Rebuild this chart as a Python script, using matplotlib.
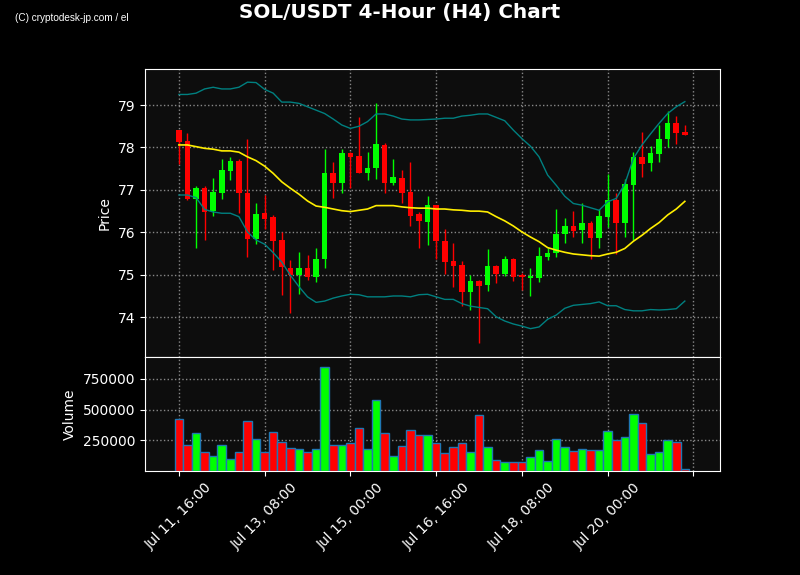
import numpy as np
import matplotlib
matplotlib.use('Agg')
import matplotlib.pyplot as plt

# 4時間足 (Jul 11 16:00 から 60本)
opens = [78.41, 78.15, 76.78, 77.05, 76.50, 76.93, 77.45, 77.68, 76.92, 75.84,
         76.45, 76.35, 75.82, 75.17, 74.99, 75.15, 74.95, 75.37, 77.39, 77.17,
         77.86, 77.80, 77.40, 77.52, 78.06, 77.17, 77.28, 76.95, 76.43, 76.24,
         76.64, 75.79, 75.32, 75.23, 74.60, 74.85, 74.75, 75.20, 75.02, 75.37,
         74.99, 74.93, 74.93, 75.43, 75.52, 75.95, 76.15, 76.06, 76.22, 75.87,
         76.37, 76.76, 76.21, 77.11, 77.77, 77.64, 77.85, 78.19, 78.57, 78.36]
closes = [78.13, 76.78, 77.05, 76.48, 76.95, 77.47, 77.68, 76.92, 75.85, 76.43,
          76.32, 75.80, 75.19, 74.99, 75.15, 74.95, 75.38, 77.39, 77.17, 77.86,
          77.78, 77.40, 77.51, 78.08, 77.17, 77.30, 76.93, 76.39, 76.26, 76.64,
          75.79, 75.30, 75.21, 74.60, 74.85, 74.74, 75.20, 75.02, 75.37, 74.95,
          74.95, 74.97, 75.44, 75.52, 75.96, 76.15, 76.04, 76.22, 75.87, 76.38,
          76.76, 76.21, 77.13, 77.77, 77.62, 77.86, 78.19, 78.57, 78.35, 78.30]
highs = [78.42, 78.33, 77.09, 77.09, 77.27, 77.72, 77.78, 77.72, 78.19, 76.68,
         76.89, 76.41, 76.01, 75.34, 75.54, 75.46, 75.62, 77.96, 77.65, 77.96,
         77.90, 78.71, 77.90, 79.04, 78.11, 77.74, 77.48, 77.65, 76.48, 76.85,
         76.64, 76.07, 75.74, 75.33, 74.99, 74.87, 75.60, 75.23, 75.44, 75.39,
         75.03, 75.17, 75.66, 75.62, 76.56, 76.33, 76.51, 76.70, 76.27, 76.56,
         77.37, 76.93, 77.25, 77.90, 78.37, 78.03, 78.53, 78.87, 78.75, 78.54]
lows = [77.62, 76.77, 75.64, 75.83, 76.38, 76.78, 77.23, 76.45, 75.42, 75.72,
        76.09, 75.11, 74.52, 74.09, 74.54, 74.87, 74.83, 75.17, 76.80, 76.92,
        77.04, 77.39, 77.23, 77.25, 76.93, 77.11, 76.70, 76.15, 75.62, 75.69,
        75.36, 75.01, 74.72, 74.27, 74.18, 73.38, 74.61, 74.81, 74.97, 74.86,
        74.65, 74.50, 74.82, 75.34, 75.42, 75.74, 75.88, 75.75, 75.36, 75.62,
        76.12, 75.49, 75.89, 75.82, 77.31, 77.44, 77.66, 78.02, 78.08, 78.30]
volumes = [421000, 209000, 307000, 152000, 120000, 209000, 100000, 152000, 405000, 258000,
           152000, 315000, 234000, 185000, 177000, 152000, 177000, 844000, 209000, 209000,
           225000, 348000, 177000, 576000, 307000, 120000, 201000, 331000, 291000, 291000,
           225000, 144000, 193000, 225000, 152000, 454000, 193000, 87000, 71000, 71000,
           71000, 111000, 168000, 79000, 258000, 193000, 160000, 177000, 168000, 168000,
           323000, 250000, 274000, 462000, 388000, 136000, 152000, 250000, 234000, 14000]

# ボリンジャーバンド (20SMA ±2σ)
bb_mid = [78.06, 78.06, 78.02, 77.98, 77.96, 77.92, 77.92, 77.89, 77.78, 77.69,
          77.56, 77.39, 77.19, 77.04, 76.90, 76.74, 76.62, 76.59, 76.55, 76.51,
          76.49, 76.52, 76.55, 76.63, 76.63, 76.63, 76.60, 76.58, 76.57, 76.57,
          76.55, 76.55, 76.53, 76.52, 76.50, 76.50, 76.48, 76.37, 76.27, 76.15,
          76.01, 75.89, 75.78, 75.64, 75.58, 75.53, 75.49, 75.47, 75.45, 75.44,
          75.49, 75.53, 75.62, 75.79, 75.93, 76.09, 76.23, 76.41, 76.55, 76.73]
bb_upper = [79.25, 79.25, 79.28, 79.38, 79.42, 79.38, 79.38, 79.42, 79.54, 79.53,
            79.37, 79.28, 79.07, 79.07, 79.04, 78.96, 78.88, 78.80, 78.67, 78.53,
            78.45, 78.50, 78.61, 78.79, 78.79, 78.74, 78.67, 78.65, 78.65, 78.66,
            78.67, 78.69, 78.69, 78.74, 78.76, 78.79, 78.79, 78.71, 78.63, 78.41,
            78.21, 78.03, 77.78, 77.35, 77.11, 76.85, 76.68, 76.64, 76.58, 76.52,
            76.72, 76.80, 77.14, 77.74, 78.06, 78.32, 78.57, 78.80, 78.96, 79.08]
bb_lower = [76.88, 76.88, 76.82, 76.54, 76.48, 76.45, 76.45, 76.37, 76.01, 75.82,
            75.72, 75.52, 75.30, 74.99, 74.72, 74.48, 74.35, 74.38, 74.45, 74.50,
            74.54, 74.53, 74.48, 74.48, 74.48, 74.50, 74.50, 74.48, 74.53, 74.54,
            74.48, 74.42, 74.42, 74.32, 74.26, 74.23, 74.20, 74.01, 73.91, 73.84,
            73.79, 73.73, 73.77, 73.95, 74.05, 74.21, 74.28, 74.30, 74.32, 74.36,
            74.27, 74.27, 74.18, 74.15, 74.15, 74.18, 74.17, 74.18, 74.20, 74.38]

tick_labels = ['Jul 11, 16:00', 'Jul 13, 08:00', 'Jul 15, 00:00', 'Jul 16, 16:00',
               'Jul 18, 08:00', 'Jul 20, 00:00', '']

UP = '#00ff00'
DOWN = '#ff0000'

x = np.arange(len(opens))
colors = [UP if c >= o else DOWN for o, c in zip(opens, closes)]

fig = plt.figure(figsize=(8, 5.75), dpi=100, facecolor='black')
ax = fig.add_axes([0.18125, 0.379, 0.71875, 0.501])
axv = fig.add_axes([0.18125, 0.181, 0.71875, 0.198], sharex=ax)

for a in (ax, axv):
    a.set_facecolor('#0d0d0d')
    for s in a.spines.values():
        s.set_color('white')
    a.tick_params(colors='white', labelsize=10)
    a.grid(True, color='#888888', linestyle=':', linewidth=1)
    a.set_axisbelow(True)

# ローソク足
ax.vlines(x, lows, highs, colors=colors, linewidth=1, zorder=2)
body_bottom = np.minimum(opens, closes)
body_height = np.abs(np.array(closes) - np.array(opens))
body_height = np.maximum(body_height, 0.02)
ax.bar(x, body_height, bottom=body_bottom, width=0.65, color=colors, zorder=3)

ax.plot(x, bb_upper, color='#008080', linewidth=1, zorder=4)
ax.plot(x, bb_lower, color='#008080', linewidth=1, zorder=4)
ax.plot(x, bb_mid, color='#ffee00', linewidth=1.2, zorder=4)

ax.set_ylim(73.06, 79.85)
ax.set_yticks([74, 75, 76, 77, 78, 79])
ax.set_ylabel('Price', color='white', fontsize=10)
ax.tick_params(axis='x', labelbottom=False)

# 出来高
axv.bar(x, volumes, width=1.0, color=colors, edgecolor='#1f77b4', linewidth=1, zorder=3)
axv.set_ylim(0, max(volumes) * 1.1)
axv.set_yticks([250000, 500000, 750000])
axv.set_yticklabels(['250000', '500000', '750000'])
axv.set_ylabel('Volume', color='white', fontsize=10)

axv.set_xlim(-3.95, 63.1)
axv.set_xticks(np.arange(0, 61, 10))
axv.set_xticklabels(tick_labels, rotation=45)

fig.suptitle('SOL/USDT 4-Hour (H4) Chart', color='white', fontsize=14.4, fontweight='bold', y=0.995)
fig.text(0.019, 0.963, '(C) cryptodesk-jp.com / el', color='white', fontsize=7.2,
         family='Liberation Sans')

fig.savefig('out.png', facecolor='black')
